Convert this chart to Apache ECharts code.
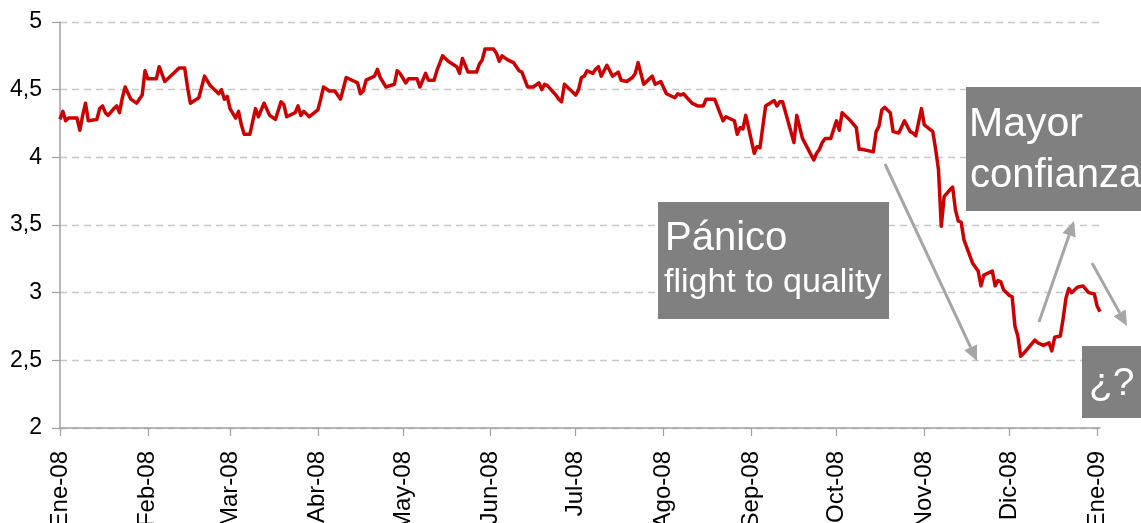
<!DOCTYPE html>
<html><head><meta charset="utf-8">
<script src="https://cdn.jsdelivr.net/npm/echarts@6/dist/echarts.min.js"></script>
<style>html,body{margin:0;padding:0;background:#fff}#c{width:1141px;height:523px}</style>
</head><body><div id="c"></div>
<script>
const dates = [
'2008-01-01','2008-01-02','2008-01-03','2008-01-04','2008-01-07','2008-01-08','2008-01-09','2008-01-10','2008-01-11','2008-01-14',
'2008-01-15','2008-01-16','2008-01-17','2008-01-18','2008-01-20','2008-01-21','2008-01-22','2008-01-23','2008-01-24','2008-01-26',
'2008-01-28','2008-01-30','2008-01-31','2008-02-01','2008-02-04','2008-02-05','2008-02-07','2008-02-10','2008-02-12','2008-02-14',
'2008-02-15','2008-02-16','2008-02-19','2008-02-20','2008-02-21','2008-02-23','2008-02-26','2008-02-27','2008-02-28','2008-02-29',
'2008-03-01','2008-03-03','2008-03-04','2008-03-05','2008-03-06','2008-03-08','2008-03-10','2008-03-11','2008-03-13','2008-03-15',
'2008-03-17','2008-03-19','2008-03-20','2008-03-21','2008-03-24','2008-03-25','2008-03-26','2008-03-27','2008-03-29','2008-04-01',
'2008-04-02','2008-04-03','2008-04-05','2008-04-07','2008-04-09','2008-04-11','2008-04-15','2008-04-16','2008-04-17','2008-04-18',
'2008-04-21','2008-04-22','2008-04-23','2008-04-25','2008-04-28','2008-04-29','2008-04-30','2008-05-02','2008-05-03','2008-05-06',
'2008-05-07','2008-05-09','2008-05-10','2008-05-12','2008-05-13','2008-05-15','2008-05-17','2008-05-20','2008-05-21','2008-05-22',
'2008-05-24','2008-05-27','2008-05-28','2008-05-29','2008-05-30','2008-06-02','2008-06-03','2008-06-04','2008-06-05','2008-06-07',
'2008-06-09','2008-06-11','2008-06-12','2008-06-14','2008-06-16','2008-06-18','2008-06-19','2008-06-20','2008-06-21','2008-06-24',
'2008-06-25','2008-06-26','2008-06-27','2008-07-01','2008-07-02','2008-07-03','2008-07-04','2008-07-05','2008-07-07','2008-07-08',
'2008-07-09','2008-07-10','2008-07-12','2008-07-14','2008-07-16','2008-07-17','2008-07-19','2008-07-21','2008-07-22','2008-07-23',
'2008-07-25','2008-07-28','2008-07-29','2008-07-31','2008-08-02','2008-08-05','2008-08-06','2008-08-07','2008-08-08','2008-08-11',
'2008-08-13','2008-08-15','2008-08-16','2008-08-19','2008-08-22','2008-08-23','2008-08-26','2008-08-27','2008-08-28','2008-08-29',
'2008-08-30','2008-09-02','2008-09-03','2008-09-04','2008-09-06','2008-09-09','2008-09-10','2008-09-11','2008-09-12','2008-09-16',
'2008-09-17','2008-09-19','2008-09-23','2008-09-24','2008-09-25','2008-09-26','2008-09-27','2008-09-29','2008-10-01','2008-10-02',
'2008-10-03','2008-10-06','2008-10-08','2008-10-09','2008-10-10','2008-10-14','2008-10-15','2008-10-16','2008-10-17','2008-10-18',
'2008-10-20','2008-10-21','2008-10-23','2008-10-25','2008-10-27','2008-10-28','2008-10-29','2008-10-31','2008-11-01','2008-11-04',
'2008-11-05','2008-11-06','2008-11-07','2008-11-08','2008-11-10','2008-11-11','2008-11-12','2008-11-13','2008-11-14','2008-11-15',
'2008-11-18','2008-11-20','2008-11-21','2008-11-22','2008-11-25','2008-11-26','2008-11-27','2008-11-28','2008-11-29','2008-12-01',
'2008-12-02','2008-12-03','2008-12-04','2008-12-05','2008-12-06','2008-12-10','2008-12-11','2008-12-13','2008-12-15','2008-12-16',
'2008-12-17','2008-12-19','2008-12-20','2008-12-21','2008-12-22','2008-12-23','2008-12-25','2008-12-27','2008-12-29','2008-12-31',
'2009-01-01','2009-01-02'
];
const values = [
4.28,4.34,4.27,4.29,4.29,4.20,4.31,4.40,4.27,4.28,
4.36,4.38,4.33,4.31,4.36,4.38,4.33,4.44,4.52,4.43,
4.40,4.46,4.64,4.58,4.58,4.67,4.56,4.62,4.66,4.66,
4.52,4.40,4.44,4.52,4.60,4.53,4.47,4.50,4.43,4.45,
4.36,4.29,4.34,4.24,4.17,4.17,4.36,4.30,4.40,4.31,
4.28,4.41,4.39,4.30,4.33,4.38,4.31,4.34,4.30,4.35,
4.43,4.52,4.49,4.49,4.43,4.59,4.55,4.47,4.49,4.57,
4.60,4.65,4.59,4.52,4.54,4.64,4.62,4.55,4.58,4.58,
4.52,4.62,4.57,4.57,4.64,4.75,4.71,4.67,4.62,4.73,
4.63,4.63,4.69,4.72,4.80,4.80,4.77,4.71,4.75,4.72,
4.70,4.64,4.63,4.52,4.52,4.55,4.50,4.54,4.53,4.46,
4.43,4.41,4.54,4.46,4.50,4.59,4.60,4.64,4.62,4.65,
4.67,4.60,4.68,4.60,4.63,4.57,4.56,4.59,4.62,4.70,
4.54,4.60,4.54,4.56,4.47,4.44,4.47,4.46,4.47,4.40,
4.38,4.38,4.43,4.43,4.27,4.30,4.27,4.17,4.22,4.21,
4.31,4.03,4.08,4.07,4.38,4.42,4.38,4.41,4.41,4.11,
4.31,4.14,3.98,4.03,4.06,4.11,4.14,4.14,4.27,4.20,
4.33,4.27,4.22,4.06,4.06,4.04,4.19,4.23,4.35,4.37,
4.33,4.19,4.18,4.27,4.19,4.18,4.16,4.36,4.24,4.19,
4.06,3.91,3.49,3.71,3.76,3.78,3.61,3.53,3.52,3.39,
3.22,3.16,3.05,3.13,3.16,3.05,3.09,3.08,3.02,2.98,
2.97,2.75,2.68,2.53,2.55,2.65,2.63,2.61,2.63,2.57,
2.67,2.68,2.81,2.96,3.03,3.00,3.04,3.05,3.00,2.99,
2.90,2.86
];
const xTickDates = ['2008-01-01','2008-02-01','2008-03-01','2008-04-01','2008-05-01','2008-06-01','2008-07-01','2008-08-01','2008-09-01','2008-10-01','2008-11-01','2008-12-01','2009-01-01'];
const xTickLabels = ['Ene-08','Feb-08','Mar-08','Abr-08','May-08','Jun-08','Jul-08','Ago-08','Sep-08','Oct-08','Nov-08','Dic-08','Ene-09'];
const yTicks = [2, 2.5, 3, 3.5, 4, 4.5, 5];
const yTickLabels = ['2', '2,5', '3', '3,5', '4', '4,5', '5'];

function ts(s) { const p = s.split('-').map(Number); return Date.UTC(p[0], p[1] - 1, p[2]); }
const tickTs = xTickDates.map(ts);
const seriesData = dates.map((d, i) => [ts(d), values[i]]);
const DAY = 86400000;

function xLabel(v) {
  for (let i = 0; i < tickTs.length; i++) { if (Math.abs(tickTs[i] - v) < 2 * DAY) return xTickLabels[i]; }
  return '';
}
function yLabel(v) {
  const i = yTicks.findIndex(t => Math.abs(t - v) < 1e-9);
  return i >= 0 ? yTickLabels[i] : '';
}

const GRAY = '#a6a6a6';
function arrow(x1, y1, x2, y2) {
  const dx = x2 - x1, dy = y2 - y1, L = Math.hypot(dx, dy), ux = dx / L, uy = dy / L, hl = 15, hw = 7;
  const bx = x2 - ux * hl, by = y2 - uy * hl;
  return [
    { type: 'line', z: 10, shape: { x1: x1, y1: y1, x2: bx, y2: by }, style: { stroke: GRAY, lineWidth: 3 } },
    { type: 'polygon', z: 10, shape: { points: [[x2, y2], [bx - uy * hw, by + ux * hw], [bx + uy * hw, by - ux * hw]] }, style: { fill: GRAY } }
  ];
}
function txt(x, y, s, size) {
  return { type: 'text', z: 11, x: x, y: y, style: { text: s, fill: '#ffffff', fontSize: size, fontFamily: 'Liberation Sans, Arial, sans-serif', align: 'left', verticalAlign: 'middle' } };
}
const BOX = '#808080';
const graphics = [
  { type: 'rect', z: 9, shape: { x: 658, y: 202, width: 231, height: 117 }, style: { fill: BOX } },
  txt(665, 239, 'Pánico', 40),
  txt(664, 283, 'flight to quality', 34),
  { type: 'rect', z: 9, shape: { x: 966, y: 87, width: 180, height: 124 }, style: { fill: BOX } },
  txt(969, 125, 'Mayor', 41),
  txt(970, 176, 'confianza', 40),
  { type: 'rect', z: 9, shape: { x: 1082, y: 346, width: 64, height: 72 }, style: { fill: BOX } },
  txt(1089, 384, '¿?', 39)
].concat(arrow(885, 164, 977, 361), arrow(1039, 322, 1074, 221), arrow(1092, 263, 1127, 326));

const chart = echarts.init(document.getElementById('c'));
chart.setOption({
  animation: false,
  backgroundColor: '#ffffff',
  grid: { left: 60, right: 41, top: 22, bottom: 95, containLabel: false, outerBoundsMode: 'none' },
  xAxis: {
    type: 'value',
    min: ts('2008-01-01'), max: ts('2009-01-02'),
    axisLine: { show: true, lineStyle: { color: '#a0a0a0', width: 1.5 } },
    axisTick: { show: true, length: 8, customValues: tickTs, lineStyle: { color: '#a0a0a0', width: 1.2 } },
    axisLabel: { customValues: tickTs, rotate: 90, margin: 23, fontSize: 24, color: '#000', fontFamily: 'Liberation Sans, Arial, sans-serif', formatter: xLabel },
    splitLine: { show: false }
  },
  yAxis: {
    type: 'value', min: 2, max: 5, interval: 0.5,
    axisLine: { show: true, lineStyle: { color: '#a0a0a0', width: 1.5 } },
    axisTick: { show: true, length: 8, lineStyle: { color: '#a0a0a0', width: 1.2 } },
    axisLabel: { fontSize: 23, color: '#000', margin: 18, fontFamily: 'Liberation Sans, Arial, sans-serif', formatter: yLabel },
    splitLine: { show: true, lineStyle: { color: '#c8c8c8', type: [7, 5], width: 1.3 } }
  },
  series: [{
    type: 'line', data: seriesData, showSymbol: false, symbol: 'none', smooth: false,
    lineStyle: { color: '#cc0000', width: 3.5, join: 'round' }, z: 3
  }],
  graphic: graphics
});
</script>
</body></html>
